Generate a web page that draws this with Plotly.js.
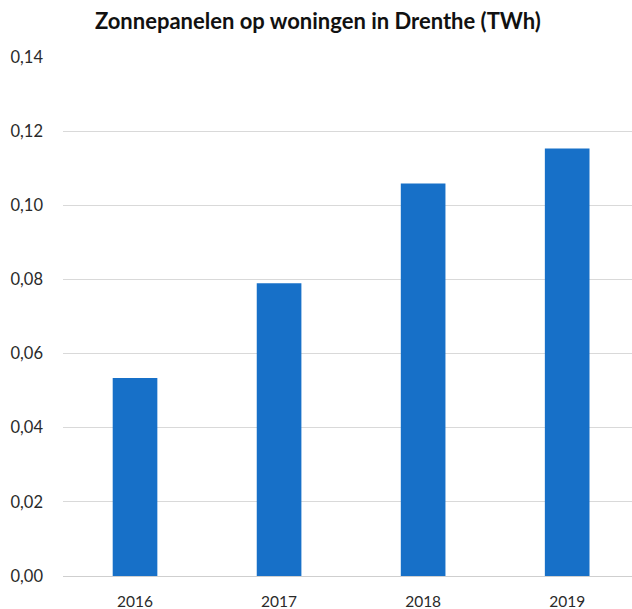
<!DOCTYPE html>
<html>
<head>
<meta charset="utf-8">
<script src="https://cdn.plot.ly/plotly-3.0.1.min.js"></script>
<style>html,body{margin:0;padding:0;background:#fff;}#chart{width:632px;height:609px;}</style>
</head>
<body>
<div id="chart"></div>
<script>
const years = ["2016", "2017", "2018", "2019"];
const values = [0.0534, 0.0790, 0.1059, 0.1153];
const yTicks = [0, 0.02, 0.04, 0.06, 0.08, 0.10, 0.12, 0.14];

const trace = {
  type: "bar",
  x: years,
  y: values,
  marker: { color: "#1770C8", line: { width: 0 } },
  hoverinfo: "x+y"
};

const layout = {
  width: 632,
  height: 609,
  margin: { l: 63, r: 0, t: 57, b: 33 },
  paper_bgcolor: "#ffffff",
  plot_bgcolor: "#ffffff",
  separators: ",.",
  bargap: 0.69,
  showlegend: false,
  title: {
    text: "<b>Zonnepanelen op woningen in Drenthe (TWh)</b>",
    font: { family: "Lato, 'Open Sans', sans-serif", size: 22, color: "#111111" },
    x: 0.503, xanchor: "center", y: 0.965, yanchor: "middle"
  },
  xaxis: {
    type: "category",
    range: [-0.5, 3.45],
    showgrid: false,
    showline: false,
    zeroline: false,
    ticks: "",
    ticklabelstandoff: 14,
    tickfont: { family: "Lato, 'Open Sans', sans-serif", size: 15.5, color: "#2a2a2a" }
  },
  yaxis: {
    range: [0, 0.14],
    tickvals: yTicks,
    tickformat: ".2f",
    showgrid: true,
    gridcolor: "#d9d9d9",
    gridwidth: 1,
    zeroline: true,
    zerolinecolor: "#cfcfcf",
    zerolinewidth: 1,
    showline: false,
    ticks: "",
    ticklabelstandoff: 19,
    tickfont: { family: "Lato, 'Open Sans', sans-serif", size: 16.5, color: "#2a2a2a" }
  }
};

Plotly.newPlot("chart", [trace], layout, { displayModeBar: false, staticPlot: true });
</script>
</body>
</html>
